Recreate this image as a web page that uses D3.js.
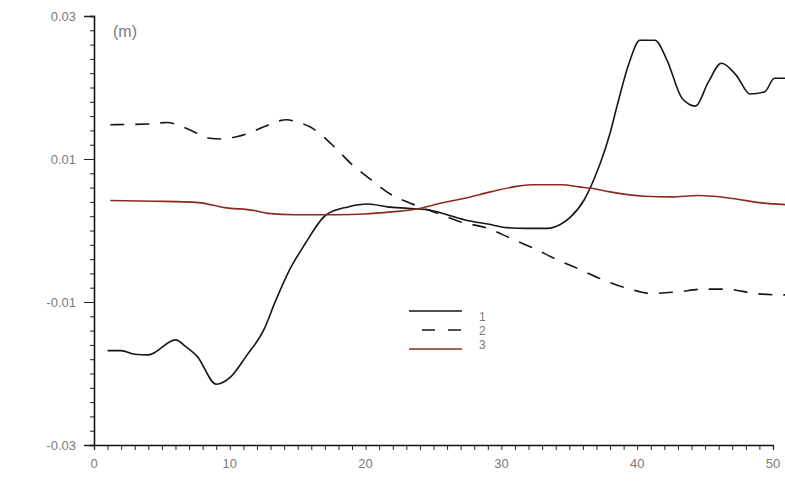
<!DOCTYPE html>
<html>
<head>
<meta charset="utf-8">
<script src="https://cdn.jsdelivr.net/npm/d3@7"></script>
<style>
  body { margin: 0; background: #fff; }
  text { font-family: "Liberation Sans", Arial, sans-serif; }
</style>
</head>
<body>
<script>
// Three displacement records (m) against position
const s1X = [1, 2, 3, 4, 6, 6.8, 7.6, 9, 10.1, 11.2, 12.5, 13.4, 14.4, 15.5, 17.1, 18.7, 20.2, 21.6, 23.1, 24.6, 26, 27.5, 29, 30.4, 31.9, 33.4, 34.3, 35.1, 36.1, 36.8, 37.3, 38, 38.5, 39.4, 40.2, 41.3, 42.2, 43.3, 44.3, 45.2, 46.2, 47.3, 48.3, 49.4, 50.1, 51];
const s1Y = [-0.0168, -0.0168, -0.0173, -0.0174, -0.0153, -0.0163, -0.0176, -0.0215, -0.0204, -0.0176, -0.0139, -0.0097, -0.0055, -0.002, 0.0022, 0.0033, 0.0037, 0.0033, 0.0031, 0.0029, 0.0022, 0.0014, 0.0009, 0.0004, 0.0003, 0.0003, 0.0008, 0.0019, 0.0043, 0.0071, 0.0095, 0.0136, 0.0173, 0.0234, 0.0266, 0.0266, 0.0238, 0.0185, 0.0174, 0.0206, 0.0234, 0.0217, 0.0191, 0.0194, 0.0213, 0.0213];

const s2X = [1.2, 4, 5.4, 6.1, 7.6, 8.5, 9.4, 10.5, 11.4, 12.5, 14.2, 14.9, 15.9, 16.6, 17.7, 18.9, 20.4, 21.9, 23.3, 25.3, 27, 29, 30.7, 32.4, 34, 35.6, 37.5, 39.3, 41, 42.9, 44.9, 46.6, 48.6, 50.5, 51];
const s2Y = [0.0148, 0.0149, 0.0151, 0.0148, 0.0136, 0.0129, 0.0128, 0.0131, 0.0136, 0.0145, 0.0155, 0.0152, 0.0145, 0.0136, 0.0117, 0.0094, 0.0071, 0.005, 0.0038, 0.0024, 0.0012, 0.0003, -0.0011, -0.0025, -0.004, -0.0053, -0.0069, -0.0081, -0.0088, -0.0086, -0.0082, -0.0082, -0.0088, -0.009, -0.009];

const s3X = [1.2, 4.5, 7.7, 9.6, 11.8, 12.8, 14.8, 18, 19.9, 21.9, 23.8, 25.5, 27.3, 29.2, 30.9, 32.2, 34.5, 35.7, 36.6, 38, 40.5, 42.5, 44.5, 45.6, 47.3, 49, 51];
const s3Y = [0.0042, 0.0041, 0.0039, 0.0032, 0.0028, 0.0024, 0.0022, 0.0022, 0.0023, 0.0026, 0.003, 0.0038, 0.0045, 0.0054, 0.0061, 0.0064, 0.0064, 0.0061, 0.0059, 0.0054, 0.0048, 0.0047, 0.0049, 0.0048, 0.0044, 0.0039, 0.0036];

const legendLabels = ["1", "2", "3"];
const yTickLabels = ["0.03", "0.01", "-0.01", "-0.03"];
const yTickValues = [0.03, 0.01, -0.01, -0.03];
const xTickValues = [0, 10, 20, 30, 40, 50];

const width = 785, height = 483;

const svg = d3.select("body").append("svg")
    .attr("width", width)
    .attr("height", height);

const x = d3.scaleLinear().domain([0, 50]).range([94, 773]);
const y = d3.scaleLinear().domain([-0.03, 0.03]).range([445, 16]);

const labelColor = "#7a7a7a";

// y axis: minor ticks every 0.002, long ticks at the labelled values
const yg = svg.append("g").attr("transform", `translate(${x(0)},0)`);
yg.call(d3.axisLeft(y).tickValues(d3.range(-0.03, 0.0301, 0.002)).tickSize(4).tickFormat(""));
yg.append("g").call(d3.axisLeft(y).tickValues(yTickValues).tickSize(10).tickFormat(""));
yg.selectAll("path.domain").attr("stroke", "#111").attr("stroke-width", 1.3);
yg.selectAll("line").attr("stroke", "#222");

svg.selectAll(".ylab").data(yTickValues).join("text")
    .attr("class", "ylab")
    .attr("x", 76)
    .attr("y", d => y(d))
    .attr("dy", "0.35em")
    .attr("text-anchor", "end")
    .attr("font-size", 13)
    .attr("fill", labelColor)
    .text((d, i) => yTickLabels[i]);

// x axis: ticks every unit
const xg = svg.append("g").attr("transform", `translate(0,${y(-0.03)})`);
xg.call(d3.axisBottom(x).tickValues(d3.range(0, 51, 1)).tickSize(5).tickFormat(""));
xg.selectAll("path.domain").attr("stroke", "#111").attr("stroke-width", 1.3);
xg.selectAll("line").attr("stroke", "#222");

svg.selectAll(".xlab").data(xTickValues).join("text")
    .attr("class", "xlab")
    .attr("x", d => x(d))
    .attr("y", 468)
    .attr("text-anchor", "middle")
    .attr("font-size", 13)
    .attr("fill", labelColor)
    .text(d => d);

svg.append("text")
    .attr("x", 113).attr("y", 37)
    .attr("font-size", 16)
    .attr("fill", labelColor)
    .text("(m)");

const line = d3.line()
    .x(d => x(d[0]))
    .y(d => y(d[1]))
    .curve(d3.curveMonotoneX);

const series = [
  { xs: s1X, ys: s1Y, color: "#161616", dash: null },
  { xs: s2X, ys: s2Y, color: "#161616", dash: "14,11" },
  { xs: s3X, ys: s3Y, color: "#8b2a22", dash: null }
];

series.forEach(s => {
  svg.append("path")
      .datum(s.xs.map((v, i) => [v, s.ys[i]]))
      .attr("d", line)
      .attr("fill", "none")
      .attr("stroke", s.color)
      .attr("stroke-width", 1.6)
      .attr("stroke-dasharray", s.dash);
});

// legend
const legend = svg.append("g");
series.forEach((s, i) => {
  const ly = 311 + i * 19;
  legend.append("line")
      .attr("x1", s.dash ? 422 : 409).attr("x2", 462)
      .attr("y1", ly).attr("y2", ly)
      .attr("stroke", s.color)
      .attr("stroke-width", 1.6)
      .attr("stroke-dasharray", s.dash ? "13,13" : null);
  legend.append("text")
      .attr("x", 479)
      .attr("y", 317 + i * 14)
      .attr("dy", "0.35em")
      .attr("font-size", 12)
      .attr("fill", labelColor)
      .text(legendLabels[i]);
});
</script>
</body>
</html>
